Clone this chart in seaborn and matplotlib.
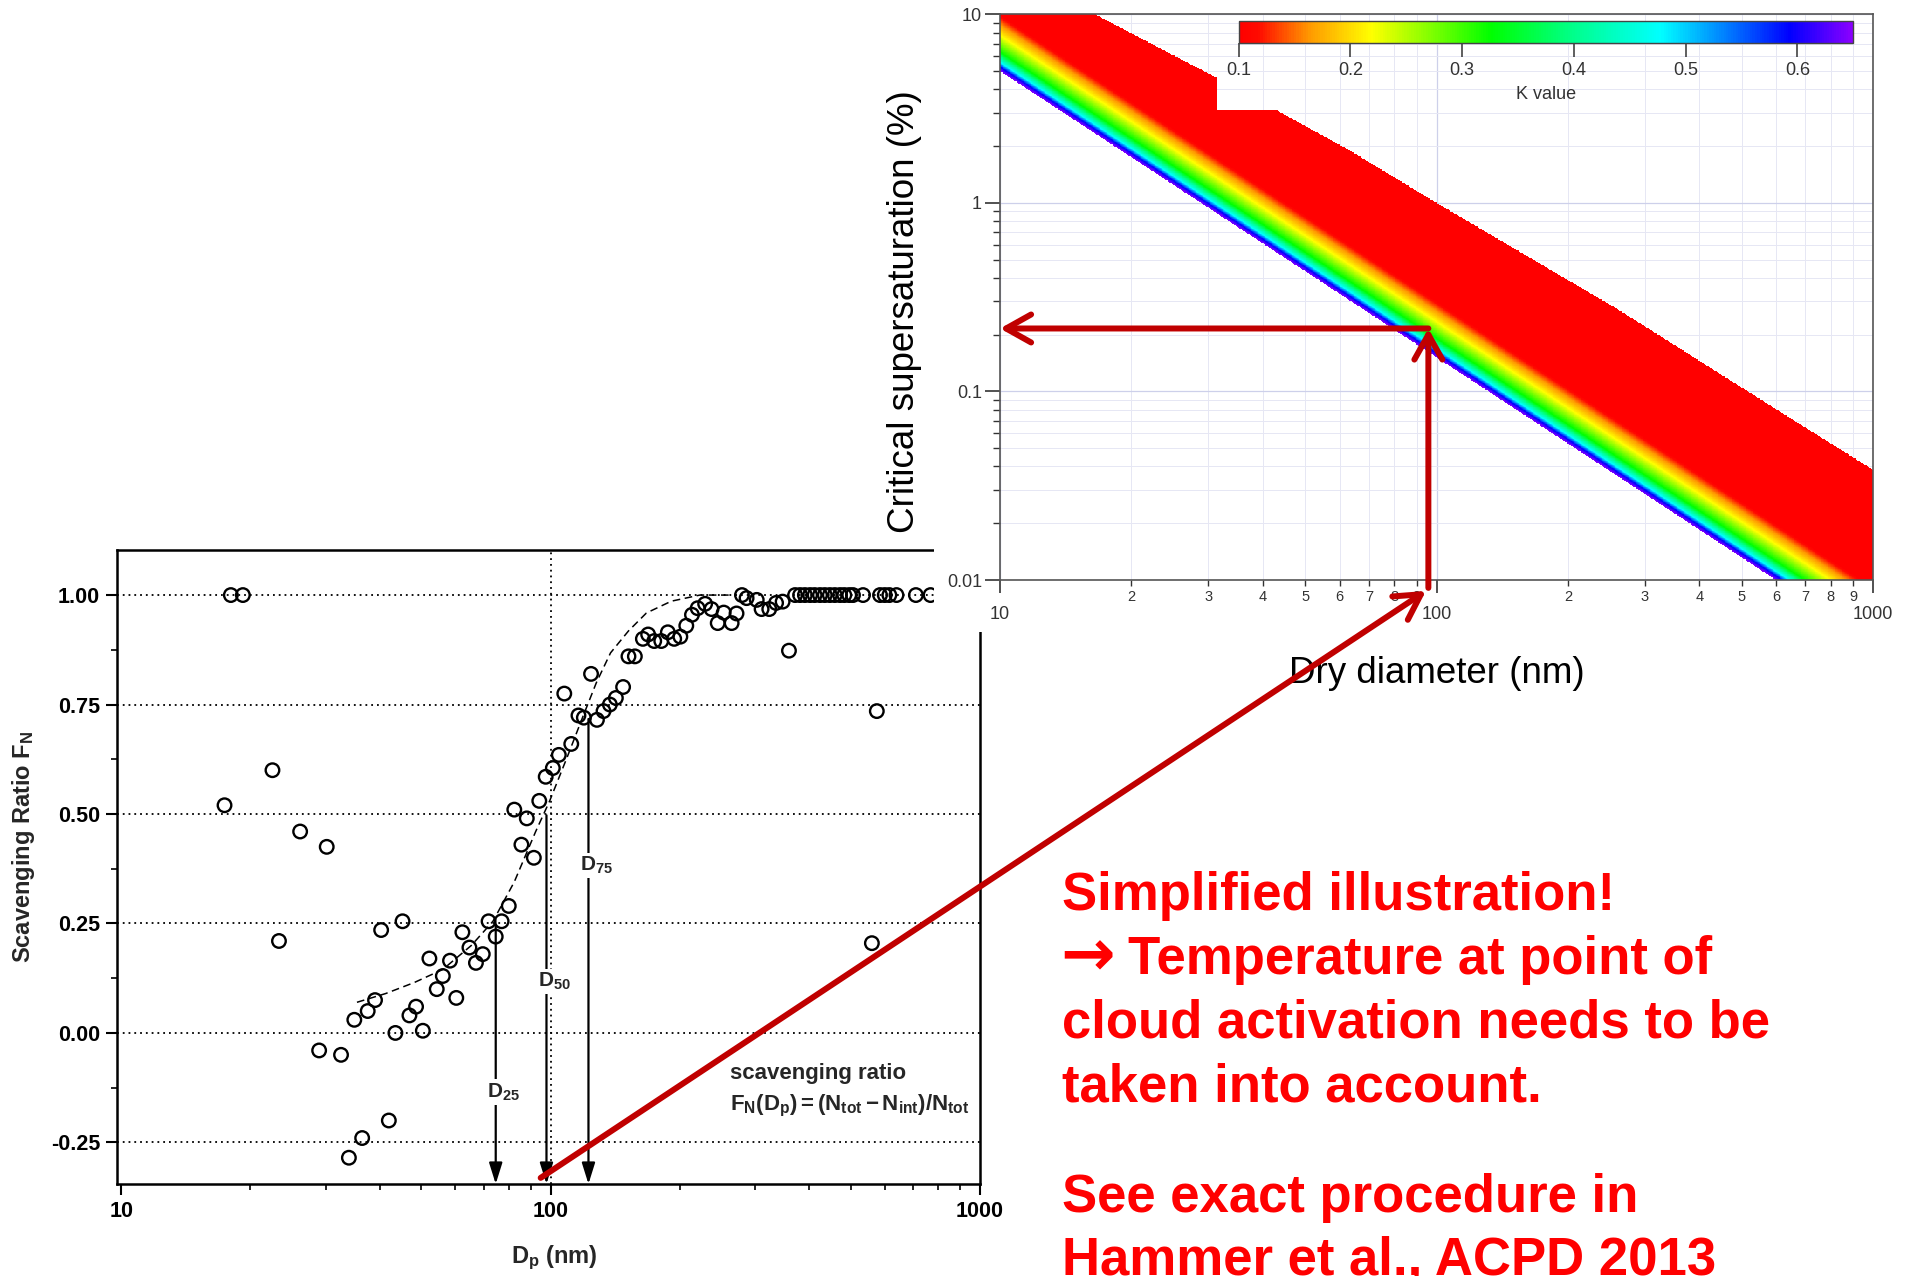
import numpy as np
import pandas as pd
import matplotlib
matplotlib.use("Agg")
import matplotlib.pyplot as plt
import seaborn as sns
from matplotlib.colors import LinearSegmentedColormap, Normalize
from matplotlib.patches import Rectangle, ConnectionPatch
from matplotlib.ticker import FixedLocator, NullFormatter, LogLocator, FuncFormatter

# ---------------------------------------------------------------------------
# Scavenging ratio measurements F_N versus particle diameter D_p (nm)
# ---------------------------------------------------------------------------
dp_points = [17.4, 18.0, 19.2, 22.5, 23.3, 26.1, 28.9, 30.1, 32.5, 33.9,
             34.9, 36.4, 37.5, 39.0, 40.3, 42.0, 43.5, 45.2, 46.9, 48.6,
             50.4, 52.2, 54.3, 56.1, 58.3, 60.3, 62.3, 64.7, 67.0, 69.5,
             71.7, 74.5, 76.9, 79.9, 82.3, 85.5, 88.0, 91.4, 94.1, 97.4,
             101.2, 104.5, 107.6, 111.7, 116.1, 119.5, 124.2, 128.2, 132.8, 137.4,
             141.9, 147.5, 151.8, 157.1, 164.0, 168.7, 174.3, 181.0, 187.5, 194.0,
             200.5, 207.0, 213.4, 220.0, 229.0, 237.0, 245.0, 253.0, 264.0, 271.0,
             279.0, 286.0, 302.0, 310.0, 323.0, 335.0, 347.0, 359.0, 371.0, 381.0,
             391.0, 402.0, 412.0, 424.0, 435.0, 447.0, 459.0, 472.0, 483.0, 496.0,
             506.0, 534.0, 560.0, 575.0, 585.0, 600.0, 615.0, 639.0, 709.0, 767.0]
fn_points = [0.52, 1.00, 1.00, 0.60, 0.21, 0.46, -0.04, 0.425, -0.05, -0.285,
             0.03, -0.24, 0.05, 0.075, 0.235, -0.20, 0.00, 0.255, 0.04, 0.06,
             0.005, 0.17, 0.10, 0.13, 0.165, 0.08, 0.23, 0.195, 0.16, 0.18,
             0.255, 0.22, 0.255, 0.29, 0.51, 0.43, 0.49, 0.40, 0.53, 0.585,
             0.605, 0.635, 0.775, 0.66, 0.725, 0.72, 0.82, 0.715, 0.735, 0.75,
             0.765, 0.79, 0.86, 0.86, 0.90, 0.91, 0.895, 0.895, 0.915, 0.90,
             0.905, 0.93, 0.955, 0.97, 0.98, 0.968, 0.936, 0.96, 0.936, 0.958,
             1.00, 0.993, 0.989, 0.968, 0.968, 0.982, 0.985, 0.873, 1.00, 1.00,
             1.00, 1.00, 1.00, 1.00, 1.00, 1.00, 1.00, 1.00, 1.00, 1.00,
             1.00, 1.00, 0.205, 0.735, 1.00, 1.00, 1.00, 1.00, 1.00, 1.00]

# fitted activation curve
fit_dp = [35.4, 41.3, 48.1, 56.1, 65.4, 73.4, 82.3, 92.3, 99.5, 109.6,
          118.3, 127.8, 137.9, 151.8, 167.1, 191.0, 222.6, 260.0]
fit_fn = [0.07, 0.09, 0.115, 0.145, 0.20, 0.255, 0.345, 0.46, 0.53, 0.633,
          0.717, 0.80, 0.868, 0.918, 0.959, 0.986, 1.00, 1.00]

# characteristic diameters D25, D50, D75
d_marks = [74.5, 97.8, 122.5]
d_start_fn = [0.247, 0.497, 0.717]
d_label_fn = [-0.135, 0.118, 0.382]
d_labels = [r"$D_{25}$", r"$D_{50}$", r"$D_{75}$"]

fn_ticks = [-0.25, 0.0, 0.25, 0.50, 0.75, 1.00]
fn_ticklabels = ["-0.25", "0.00", "0.25", "0.50", "0.75", "1.00"]
dp_ticks = [10, 100, 1000]

# ---------------------------------------------------------------------------
# Critical supersaturation map coloured by hygroscopicity kappa
# ---------------------------------------------------------------------------
kappa_ticks = [0.1, 0.2, 0.3, 0.4, 0.5, 0.6]
kappa_range = (0.1, 0.65)
# activation line of the most hygroscopic particles (kappa = 0.65)
edge_dry = [10.0, 1000.0]
edge_ss = [5.0, 0.0046]
# colour offset above that line (decades of supersaturation) per kappa
offset_dec = [0.0, 0.022, 0.046, 0.10, 0.19, 0.245, 0.295]
offset_kappa = [0.65, 0.594, 0.478, 0.326, 0.218, 0.163, 0.105]
# upper limit of the computed supersaturation grid
top_dry = [10.0, 16.5, 31.39, 31.41, 42.7, 63.7, 100.0, 262.0, 656.0, 1000.0]
top_ss = [10.0, 10.0, 4.6, 3.13, 3.13, 1.88, 1.0, 0.27, 0.0706, 0.0384]

kappa_colors = [(0.0, "#ff0000"), (0.03, "#ff0a00"), (0.115, "#ff9a00"),
                (0.215, "#ffff00"), (0.41, "#00ff00"), (0.55, "#00ff90"),
                (0.687, "#00ffff"), (0.898, "#0000ff"), (1.0, "#8a00ff")]

# sizing-to-activation lookup drawn as red arrows
d50_link = 94.8
ss_crit = 0.2157

text_lines = ["Simplified illustration!",
              "Temperature at point of",
              "cloud activation needs to be",
              "taken into account.",
              "See exact procedure in",
              "Hammer et al., ACPD 2013"]
text_baselines = [0.28683, 0.23668, 0.18707, 0.13660, 0.05039, 0.00120]
text_x = [0.5572, 0.5918, 0.5572, 0.5572, 0.5572, 0.5572]

# ---------------------------------------------------------------------------
sns.set_theme(style="ticks")
plt.rcParams.update({
    "font.family": ["Liberation Sans", "DejaVu Sans"],
    "mathtext.fontset": "custom",
    "mathtext.rm": "Liberation Sans",
    "mathtext.bf": "Liberation Sans:bold",
    "mathtext.it": "Liberation Sans:italic",
    "mathtext.default": "bf",
    "axes.unicode_minus": False,
})

fig = plt.figure(figsize=(19.06, 12.76), dpi=100)
fig.patch.set_facecolor("white")

# ----------------------------- left panel ----------------------------------
ax_l = fig.add_axes([0.06123, 0.07210, 0.45294, 0.49655], zorder=1)
ax_l.set_xscale("log")
ax_l.set_xlim(9.76, 1000)
ax_l.set_ylim(-0.345, 1.102)

ax_l.set_yticks(fn_ticks)
ax_l.set_yticklabels(fn_ticklabels)
ax_l.yaxis.set_minor_locator(FixedLocator([-0.125, 0.125, 0.375, 0.625, 0.875]))
ax_l.set_xticks(dp_ticks)
ax_l.set_xticklabels(["10", "100", "1000"])
ax_l.xaxis.set_minor_locator(FixedLocator([v * m for m in (10, 100) for v in range(2, 10)]))
ax_l.xaxis.set_minor_formatter(NullFormatter())
for lab in ax_l.get_xticklabels() + ax_l.get_yticklabels():
    lab.set_fontweight("bold")
    lab.set_fontsize(15.5)
ax_l.tick_params(which="major", direction="out", length=8, width=1.5, colors="black", pad=4)
ax_l.tick_params(which="minor", direction="out", length=4.5, width=1.2, colors="black")
for sp in ax_l.spines.values():
    sp.set_color("black")
    sp.set_linewidth(1.8)

ax_l.grid(False)
for f in fn_ticks:
    ax_l.axhline(f, color="black", linestyle=(0, (1, 2.2)), lw=1.3, zorder=1)
ax_l.axvline(100, color="black", linestyle=(0, (1, 2.2)), lw=1.3, zorder=1)

sns.lineplot(x=fit_dp, y=fit_fn, ax=ax_l, color="black", lw=1.1,
             linestyle=(0, (5, 3)), estimator=None, sort=False, zorder=2)

df_pts = pd.DataFrame({"Dp": dp_points, "FN": fn_points})
sns.scatterplot(data=df_pts, x="Dp", y="FN", ax=ax_l, marker="o", s=95,
                facecolor="none", edgecolor="black", linewidth=1.7, zorder=3)

for d, f0, fl, lab in zip(d_marks, d_start_fn, d_label_fn, d_labels):
    ax_l.annotate("", xy=(d, -0.345), xytext=(d, f0),
                  arrowprops=dict(arrowstyle="-|>,head_length=0.8,head_width=0.25",
                                  color="black", lw=1.6, shrinkA=0, shrinkB=0,
                                  mutation_scale=16), zorder=4)
    ax_l.annotate(lab, xy=(d, fl), xytext=(5.5, 0), textcoords="offset points",
                  ha="center", va="center", fontsize=15,
                  bbox=dict(fc="white", ec="none", pad=1.5), zorder=5)

ax_l.text(261.5, -0.092, "scavenging ratio", fontsize=16, fontweight="bold",
          ha="left", va="center", zorder=5)
ax_l.text(261.5, -0.167, r"$F_N(D_p) = (N_{tot} - N_{int})/N_{tot}$", fontsize=16,
          ha="left", va="center", zorder=5)

ax_l.set_xlabel(r"$D_p$ (nm)", fontsize=17, fontweight="bold")
ax_l.set_ylabel(r"Scavenging Ratio $F_N$", fontsize=17, fontweight="bold")
ax_l.xaxis.set_label_coords(0.507, -0.0947)
ax_l.yaxis.set_label_coords(-0.0927, 0.5327)

# white backdrop of the right panel, overlapping the left one
fig.add_artist(Rectangle((0.49003, 0.50470), 0.51, 0.4953, transform=fig.transFigure,
                         facecolor="white", edgecolor="none", zorder=2))

# ----------------------------- right panel ---------------------------------
ax_r = fig.add_axes([0.52466, 0.54545, 0.45803, 0.44334], zorder=3)
ax_r.set_facecolor("white")
ax_r.set_xscale("log")
ax_r.set_yscale("log")
ax_r.set_xlim(10, 1000)
ax_r.set_ylim(0.01, 10)

log_d_edges = np.linspace(1, 3, 1001)
log_s_edges = np.linspace(-2, 1, 801)
log_d_c = 0.5 * (log_d_edges[:-1] + log_d_edges[1:])
log_s_c = 0.5 * (log_s_edges[:-1] + log_s_edges[1:])
LD, LS = np.meshgrid(log_d_c, log_s_c)
edge = np.interp(LD, np.log10(edge_dry), np.log10(edge_ss))
top = np.interp(LD, np.log10(top_dry), np.log10(top_ss))
delta = LS - edge
K = np.interp(delta, offset_dec, offset_kappa, right=0.05)
K = np.where((delta >= 0) & (LS <= top), K, np.nan)
K = np.ma.masked_invalid(K)

cmap = LinearSegmentedColormap.from_list("kappa", kappa_colors)
cmap.set_under("#ff0000")
cmap.set_bad((1, 1, 1, 0))
norm = Normalize(*kappa_range)
mesh = ax_r.pcolormesh(10 ** log_d_edges, 10 ** log_s_edges, K, cmap=cmap, norm=norm,
                       shading="flat", rasterized=True, zorder=1)

ax_r.set_axisbelow(True)
ax_r.grid(True, which="major", color="#cdd0ea", lw=0.9)
ax_r.grid(True, which="minor", color="#e6e7f4", lw=0.7)

ax_r.xaxis.set_major_locator(FixedLocator([10, 100, 1000]))
ax_r.xaxis.set_major_formatter(FuncFormatter(lambda v, p: f"{v:g}"))
ax_r.xaxis.set_minor_locator(LogLocator(base=10, subs=range(2, 10)))
ax_r.xaxis.set_minor_formatter(
    FuncFormatter(lambda v, p: f"{round(v / 10 ** np.floor(np.log10(v) + 1e-9)):d}"))
ax_r.yaxis.set_major_locator(FixedLocator([0.01, 0.1, 1, 10]))
ax_r.yaxis.set_major_formatter(FuncFormatter(lambda v, p: f"{v:g}"))
ax_r.yaxis.set_minor_locator(LogLocator(base=10, subs=range(2, 10)))
ax_r.yaxis.set_minor_formatter(NullFormatter())

ax_r.tick_params(axis="x", which="major", direction="out", length=9, width=1.2,
                 colors="#333333", labelsize=13, pad=10)
ax_r.tick_params(axis="x", which="minor", direction="out", length=4.5, width=1.0,
                 colors="#333333", labelsize=10.5, pad=3)
ax_r.tick_params(axis="y", which="major", direction="out", length=11, width=1.2,
                 colors="#333333", labelsize=13, pad=2)
ax_r.tick_params(axis="y", which="minor", direction="out", length=5, width=1.0,
                 colors="#333333")
for sp in ax_r.spines.values():
    sp.set_color("#555555")
    sp.set_linewidth(1.2)

ax_r.set_ylabel("Critical supersaturation (%)", fontsize=26.5, color="black")
ax_r.set_xlabel("Dry diameter (nm)", fontsize=26.5, color="black")
ax_r.yaxis.set_label_coords(-0.0888, 0.4738)
ax_r.xaxis.set_label_coords(0.5, -0.134)

# colour bar inside the panel
cax = fig.add_axes([0.64984, 0.96630, 0.32246, 0.01724], zorder=4)
cb = fig.colorbar(mesh, cax=cax, orientation="horizontal", ticks=kappa_ticks)
cb.ax.xaxis.set_major_formatter(FuncFormatter(lambda v, p: f"{v:.1f}"))
cb.outline.set_edgecolor("#444444")
cb.outline.set_linewidth(1.0)
cax.tick_params(axis="x", direction="out", length=10, width=1.1, colors="#333333",
                labelsize=13, pad=4)
cb.set_label("K value", fontsize=13, color="#333333", labelpad=5)

# ----------------------------- red arrows ----------------------------------
arrow_kw = dict(arrowstyle="->,head_length=0.5,head_width=0.28", color="#c00000",
                lw=4.3, mutation_scale=36, shrinkA=0, shrinkB=0, zorder=10,
                clip_on=False)
links = [
    ((d50_link, -0.331), ax_l, (94.6, 0.00875), ax_r),
    ((d50_link + 1.0, 0.00908), ax_r, (d50_link + 1.0, ss_crit), ax_r),
    ((d50_link + 1.0, ss_crit), ax_r, (10.0, ss_crit), ax_r),
]
for xy_a, axa, xy_b, axb in links:
    con = ConnectionPatch(xyA=xy_a, coordsA="data", axesA=axa,
                          xyB=xy_b, coordsB="data", axesB=axb, **arrow_kw)
    con.set_annotation_clip(False)
    fig.add_artist(con)

# ----------------------------- annotation text ------------------------------
for line, x0, yb in zip(text_lines, text_x, text_baselines):
    fig.text(x0, yb, line, color="#ff0000", fontsize=38, fontweight="bold",
             ha="left", va="baseline", zorder=6)
# bullet arrow in front of the second line
fig.text(0.5562, text_baselines[1] - 0.001, "\u2192", color="#ff0000", fontsize=47,
         fontweight="bold", family="DejaVu Sans", ha="left", va="baseline", zorder=6)

fig.savefig("out.png", dpi=100, facecolor="white")
